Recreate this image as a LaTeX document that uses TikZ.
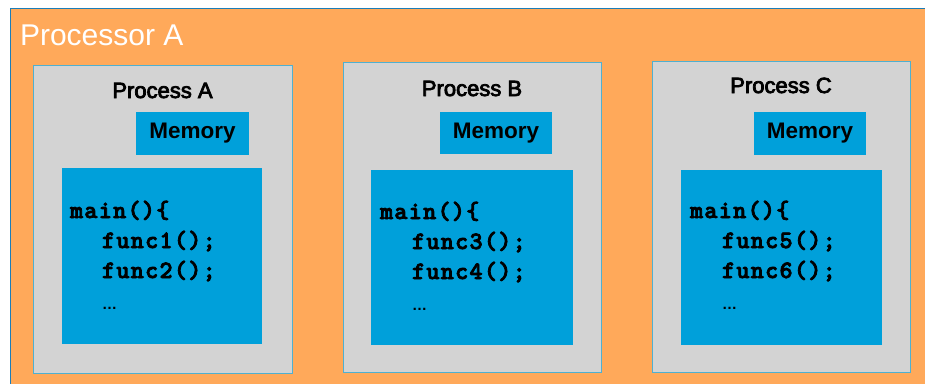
\documentclass[tikz,border=0pt]{standalone}
\usepackage{fontspec}
\setmainfont{Liberation Sans}
\newfontface\headfont{Liberation Sans}[FakeBold=3.5]
\newfontface\codefont{lmmonolt10-bold.otf}[LetterSpace=5,FakeBold=3]
\definecolor{cpuorange}{HTML}{FFA95A}
\definecolor{cpuedge}{HTML}{1B7DB8}
\definecolor{procgray}{HTML}{D3D3D3}
\definecolor{procedge}{HTML}{4FB0D0}
\definecolor{memblue}{HTML}{00A0DA}
\begin{document}
\begin{tikzpicture}[x=1pt,y=-1pt,
  every node/.style={inner sep=0pt, outer sep=0pt},
  cpubox/.style={fill=cpuorange, draw=cpuedge, line width=1.2pt, anchor=north west},
  procbox/.style={fill=procgray, draw=procedge, line width=0.9pt, anchor=north west},
  membox/.style={fill=memblue, anchor=north west},
  codebox/.style={fill=memblue, anchor=north west},
  cputitle/.style={text=white, font=\fontsize{30}{30}\selectfont, anchor=base west},
  proctitle/.style={text=black, font=\headfont\fontsize{22}{22}\selectfont, anchor=base},
  memtext/.style={text=black, font=\bfseries\fontsize{22.5}{22.5}\selectfont},
  codeline/.style={text=black, font=\codefont\fontsize{25}{25}\selectfont, anchor=base west},
  dotsline/.style={text=black, font=\bfseries\fontsize{15}{15}\selectfont, anchor=base west}]
\useasboundingbox (0,0) rectangle (925,383);
\clip (0,0) rectangle (925,383);

% processor frame (runs off the right and bottom edges)
\node[cpubox, minimum width=930pt, minimum height=390pt] (cpu) at (10.5,8.5) {};
\node[cputitle] (cpulabel) at (20,45) {Processor A};

% process A
\node[procbox, minimum width=259pt, minimum height=308pt] (pA) at (33,65) {};
\node[proctitle] (pAt) at (162.5,98) {Process A};
\node[membox, minimum width=113pt, minimum height=43pt] (mA) at (136,112) {};
\node[memtext] (mAt) at (mA.center) {Memory};
\node[codebox, minimum width=200pt, minimum height=176pt] (cA) at (62,168) {};
\node[codeline] (cA1) at (70,218) {main()\{};
\node[codeline] (cA2) at (102,248) {func1();};
\node[codeline] (cA3) at (102,278) {func2();};
\node[dotsline] (cA4) at (102,309) {…};

% process B
\node[procbox, minimum width=258pt, minimum height=310pt] (pB) at (343,62) {};
\node[proctitle] (pBt) at (472,96) {Process B};
\node[membox, minimum width=112pt, minimum height=42pt] (mB) at (440,112) {};
\node[memtext] (mBt) at (mB.center) {Memory};
\node[codebox, minimum width=202pt, minimum height=175pt] (cB) at (371,170) {};
\node[codeline] (cB1) at (380,219) {main()\{};
\node[codeline] (cB2) at (412,249) {func3();};
\node[codeline] (cB3) at (412,279) {func4();};
\node[dotsline] (cB4) at (412,310) {…};

% process C
\node[procbox, minimum width=258pt, minimum height=311pt] (pC) at (652,61) {};
\node[proctitle] (pCt) at (781,93) {Process C};
\node[membox, minimum width=112pt, minimum height=43pt] (mC) at (754,112) {};
\node[memtext] (mCt) at (mC.center) {Memory};
\node[codebox, minimum width=201pt, minimum height=175pt] (cC) at (681,170) {};
\node[codeline] (cC1) at (690,218) {main()\{};
\node[codeline] (cC2) at (722,248) {func5();};
\node[codeline] (cC3) at (722,278) {func6();};
\node[dotsline] (cC4) at (722,309) {…};
\end{tikzpicture}
\end{document}
